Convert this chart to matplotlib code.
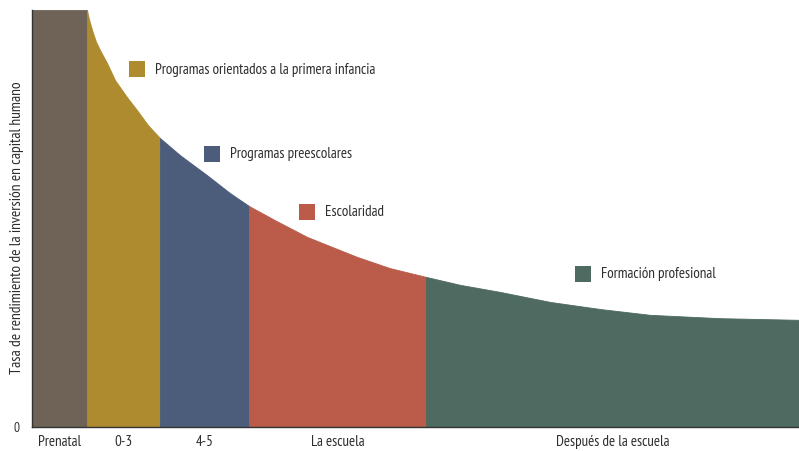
import matplotlib
matplotlib.use("Agg")
import matplotlib.pyplot as plt
from matplotlib import font_manager
import numpy as np

# ---------------- data ----------------
stages = ["Prenatal", "0-3", "4-5", "La escuela", "Después de la escuela"]
stage_edges = [0, 55, 128, 217, 394, 767]          # age axis (arbitrary units)
programs = ["Programas orientados a la primera infancia", "Programas preescolares",
            "Escolaridad", "Formación profesional"]
curve_x = [55, 56.5, 58, 61, 64, 68, 75, 83, 95, 105, 116, 128, 148, 175, 198, 217, 243, 275,
           325, 358, 394, 428, 468, 518, 568, 618, 688, 767]
curve_y = [100.0, 98.3, 96.9, 94.5, 92.4, 90.4, 87.3, 83.2, 79.1, 76.0, 72.4, 69.3, 65.2, 60.4, 56.1,
           53.0, 49.6, 45.6, 40.8, 38.1, 36.0, 34.1, 32.4, 30.0, 28.3, 26.9, 26.1, 25.7]
prenatal_level = 100
ylabel = "Tasa de rendimiento de la inversión en capital humano"

colors = ["#6E6356", "#AE8B2F", "#4C5D7B", "#BB5C4A", "#4E6A61"]

names = {f.name for f in font_manager.fontManager.ttflist}
fam = next((n for n in ["PT Sans Narrow", "Fira Sans Condensed", "Roboto Condensed",
                        "Liberation Sans Narrow"] if n in names), "DejaVu Sans")
plt.rcParams["font.family"] = [fam, "DejaVu Sans"]

W, H = 799, 451
fig = plt.figure(figsize=(W / 100, H / 100), dpi=100)
ax = fig.add_axes([32 / W, 1 - 427 / H, 767 / W, 417 / H])

cx = np.array(curve_x, dtype=float)
cy = np.array(curve_y, dtype=float)

# prenatal block
ax.fill_between([stage_edges[0], stage_edges[1]], [prenatal_level, prenatal_level], 0,
                color=colors[0], edgecolor=colors[0], linewidth=0.6)
# curve segments
for i in range(1, 5):
    lo, hi = stage_edges[i], stage_edges[i + 1]
    m = (cx >= lo) & (cx <= hi)
    ax.fill_between(cx[m], cy[m], 0, color=colors[i], edgecolor=colors[i], linewidth=0.6)

ax.set_xlim(stage_edges[0], stage_edges[-1])
ax.set_ylim(0, 100)

TXT = "#2E2E2E"
FS = 10.8
# legend-like labels
lab_pos = [(97, 84.0, 123, 85.6), (172, 63.6, 198, 65.5),
           (267, 49.7, 293, 51.6), (543, 34.8, 569, 36.7)]
sq_w, sq_h = 16, 16 / 417 * 100
for (sx, sy, tx, ty), name, col in zip(lab_pos, programs, colors[1:]):
    ax.add_patch(plt.Rectangle((sx, sy), sq_w, sq_h, color=col, linewidth=0))
    ax.text(tx, ty, name, fontsize=FS, color=TXT, va="center", ha="left")

centers = [(stage_edges[i] + stage_edges[i + 1]) / 2 for i in range(5)]
ax.set_xticks(centers)
ax.set_xticklabels(stages, fontsize=FS, color=TXT)
ax.set_yticks([0])
ax.set_yticklabels(["0"], fontsize=9.5, color=TXT)
ax.tick_params(length=0, pad=6)
ax.tick_params(axis="y", pad=9)

for s in ["top", "right"]:
    ax.spines[s].set_visible(False)
for s in ["left", "bottom"]:
    ax.spines[s].set_color("#333333")
    ax.spines[s].set_linewidth(1.0)
    ax.spines[s].set_zorder(5)

fig.text(17 / W, 1 - 228 / H, ylabel, rotation=90, fontsize=11.2, color=TXT,
         ha="center", va="center")

fig.savefig("out.png", dpi=100)
